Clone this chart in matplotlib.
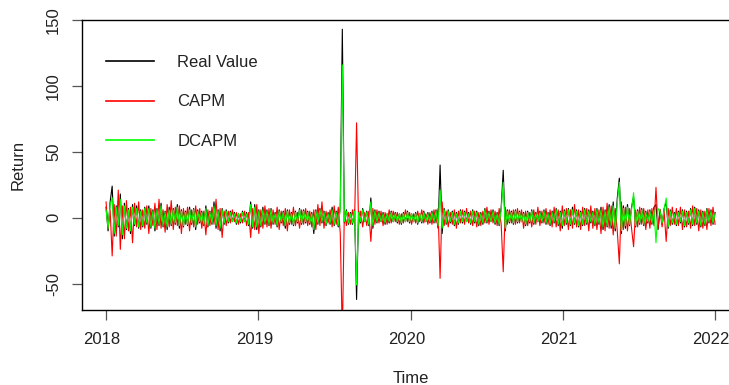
import numpy as np
import matplotlib
matplotlib.use("Agg")
import matplotlib.pyplot as plt
import matplotlib.transforms as mtransforms

plt.rcParams['font.family'] = ['Liberation Sans', 'DejaVu Sans']

# ---- data (~300 samples spanning 2018-2022) ----
real_value = [
    8, -10, 12, 24, -14, 9, -7, 18, -16, 11, -9, 7, -12, 10, -6, 9, -8, 6, -7, 8,
    -5, 9, -8, 6, -10, 7, -6, 11, -7, 5, -9, 8, -6, 7, -5, 10, -8, 6, -7, 5,
    -6, 8, -5, 7, -9, 6, -4, 5, -6, 9, -7, 5, -5, 12, -8, 6, -10, 7, -5, 6,
    -4, 5, -3, 4, -5, 3, -4, 5, -3, 4, -6, 12, -8, 10, -9, 6, -7, 8, -5, 6,
    -6, 7, -5, 4, -7, 6, -4, 5, -8, 6, -5, 4, -6, 5, -4, 7, -5, 6, -4, 5,
    -5, 4, -12, 6, -5, 7, -4, 5, -6, 4, -5, 8, -6, 5, -7, 9, 143, -4, 6, -5,
    4, -5, 6, -62, 5, -4, 7, -3, 5, -6, 15, -8, 6, -4, 5, -3, 4, -5, 3, -4,
    5, -3, 4, -4, 3, -5, 4, -3, 5, -4, 3, -3, 4, -5, 3, -4, 5, -3, 4, -4,
    5, -4, 6, -8, 40, -12, 7, -5, 6, -4, 5, -6, 4, -5, 6, -4, 5, -3, 4, -5,
    6, -4, 5, -6, 4, -5, 7, -4, 5, -3, 6, -5, 4, -6, 8, 36, -10, 6, -4, 5,
    -5, 6, -4, 5, -3, 4, -6, 5, -4, 6, -5, 4, -3, 5, -4, 6, -5, 4, -6, 5,
    -4, 7, -6, 5, -8, 6, -5, 7, -6, 8, -5, 6, -7, 5, -6, 7, -5, 6, -4, 5,
    -6, 7, -5, 8, -9, 6, -7, 10, -8, 12, -10, 15, 30, -12, 9, -8, 10, -6, 8, 16,
    -7, 6, -5, 7, -6, 5, -4, 6, -5, 8, 10, -9, 6, -5, 7, 12, -8, 6, -5, 4,
    -6, 5, -4, 6, -7, 5, -5, 7, -6, 8, -5, 6, -7, 5, -6, 7, -4, 6, -5, 4,
]
capm = [
    12, -8, 6, -29, 10, -14, 21, -24, 9, -16, 13, -10, 8, -19, 11, -7, 12, -9, 6, -8,
    9, -12, 7, -6, 11, -9, 14, -8, 6, -11, 10, -7, 13, -9, 8, -6, 9, -12, 7, -5,
    8, -10, 6, -7, 9, -5, 7, -8, 5, -13, 6, -6, 8, -5, 14, -9, 7, -15, 5, -6,
    5, -4, 6, -3, 4, -5, 3, -4, 5, -6, 4, -15, 7, -9, 10, -12, 6, -8, 9, -7,
    7, -8, 6, -5, 8, -9, 5, -6, 7, -10, 6, -5, 8, -6, 4, -8, 6, -5, 7, -6,
    5, -7, 6, -9, 10, -6, 12, -8, 5, -4, 6, -7, 9, -5, 8, -12, -90, 5, -6, 4,
    -5, 6, -4, 72, -6, 5, -7, 4, -6, 5, -18, 7, -5, 6, -4, 5, -6, 4, -5, 6,
    -4, 5, -3, 4, -5, 3, -4, 6, -3, 4, -5, 3, -4, 5, -3, 6, -4, 3, -5, 4,
    -5, 6, -4, 7, -46, 12, -6, 5, -7, 4, -5, 6, -8, 5, -4, 6, -5, 7, -4, 5,
    -6, 5, -7, 4, -6, 5, -4, 8, -5, 6, -4, 5, -6, 7, -5, -41, 8, -5, 6, -4,
    6, -5, 7, -4, 6, -8, 5, -6, 4, -7, 6, -5, 8, -6, 5, -4, 7, -5, 6, -7,
    8, -7, 6, -10, 9, -6, 7, -9, 6, -8, 10, -7, 6, -9, 8, -6, 7, -10, 9, -8,
    7, -9, 6, -12, 8, -10, 11, -8, 9, -13, 7, -10, -35, 12, -9, 8, -10, 7, -8, -22,
    6, -7, 8, -5, 7, -9, 6, -8, 7, -6, 23, -8, 6, -7, 5, -18, 7, -6, 8, -5,
    7, -6, 8, -9, 6, -7, 5, -8, 9, -6, 7, -10, 6, -8, 5, -9, 7, -6, 8, -5,
]
dcapm = [
    6, -8, 10, 15, -12, 8, -6, 14, -13, 9, -8, 6, -10, 8, -5, 7, -7, 5, -6, 7,
    -4, 7, -7, 5, -8, 6, -5, 9, -6, 4, -7, 6, -5, 6, -4, 8, -6, 5, -6, 4,
    -5, 6, -4, 6, -7, 5, -3, 4, -5, 7, -6, 4, -4, 9, -6, 5, -8, 6, -4, 5,
    -3, 4, -3, 3, -4, 3, -3, 4, -3, 3, -5, 10, -7, 8, -7, 5, -6, 6, -4, 5,
    -5, 6, -4, 3, -6, 5, -3, 4, -6, 5, -4, 3, -5, 4, -3, 6, -4, 5, -3, 4,
    -4, 3, -9, 5, -4, 6, -3, 4, -5, 3, -4, 6, -5, 4, -6, 7, 116, -3, 5, -4,
    3, -4, 5, -51, 4, -3, 6, -3, 4, -5, 12, -6, 5, -3, 4, -3, 3, -4, 3, -3,
    4, -3, 3, -3, 3, -4, 3, -3, 4, -3, 3, -3, 3, -4, 3, -3, 4, -3, 3, -3,
    4, -3, 5, -6, 21, -8, 6, -4, 5, -3, 4, -5, 3, -4, 5, -3, 4, -3, 3, -4,
    5, -3, 4, -5, 3, -4, 6, -3, 4, -3, 5, -4, 3, -5, 6, 27, -8, 5, -3, 4,
    -4, 5, -3, 4, -3, 3, -5, 4, -3, 5, -4, 3, -3, 4, -3, 5, -4, 3, -5, 4,
    -3, 6, -5, 4, -6, 5, -4, 6, -5, 6, -4, 5, -6, 4, -5, 6, -4, 5, -3, 4,
    -5, 6, -4, 6, -7, 5, -6, 8, -6, 9, -8, 11, 27, -10, 7, -6, 8, -5, 6, 19,
    -6, 5, -4, 6, -5, 4, -3, 5, -4, 6, -19, 7, 5, -4, 6, 15, -7, 5, -4, 3,
    -5, 4, -3, 5, -6, 4, -4, 6, -5, 7, -4, 5, -6, 4, -5, 6, -3, 5, -4, 3,
]
start_year, end_year = 2018.0, 2022.0
x_ticks = [2018, 2019, 2020, 2021, 2022]
y_ticks = [-50, 0, 50, 100, 150]
series_names = ["Real Value", "CAPM", "DCAPM"]
series_colors = ["black", "#FF0000", "#00FF00"]

t = np.linspace(start_year, end_year, len(real_value))

fig = plt.figure(figsize=(7.29, 3.85), dpi=100)
ax = fig.add_axes([82/729, 75/385, (740-82)/729, 290/385])

for vals, name, col in zip([real_value, capm, dcapm], series_names, series_colors):
    ax.plot(t, vals, color=col, lw=0.8, label=name)

ax.set_xlim(2017.842, 2017.842 + (740-82)/152.25)
ax.set_ylim(-70, 150)
ax.set_xticks(x_ticks)
ax.set_xticklabels([str(v) for v in x_ticks])
ax.set_yticks(y_ticks)
ax.set_yticklabels([str(v) for v in y_ticks], rotation=90, va='center')
ax.tick_params(axis='both', labelsize=12, length=7, width=0.9, color='#555555', labelcolor='#222222')
ax.tick_params(axis='x', pad=9)
ax.tick_params(axis='y', pad=8)
for s in ax.spines.values():
    s.set_linewidth(1.0)
    s.set_color('black')

# nudge x tick labels slightly left, as in the reference
shift = mtransforms.ScaledTranslation(-4/100, 0, fig.dpi_scale_trans)
for lab in ax.get_xticklabels():
    lab.set_transform(lab.get_transform() + shift)

ax.set_xlabel("Time", fontsize=12, color='#222222', labelpad=17)
ax.set_ylabel("Return", fontsize=12, color='#222222', labelpad=15)

leg = ax.legend(loc='upper left', bbox_to_anchor=(0.013, 0.93), frameon=False,
                fontsize=12, handlelength=2.9, handletextpad=1.4, labelspacing=1.45,
                labelcolor='#222222')
for h in leg.get_lines():
    h.set_linewidth(1.2)

fig.savefig("out.png", dpi=100)
